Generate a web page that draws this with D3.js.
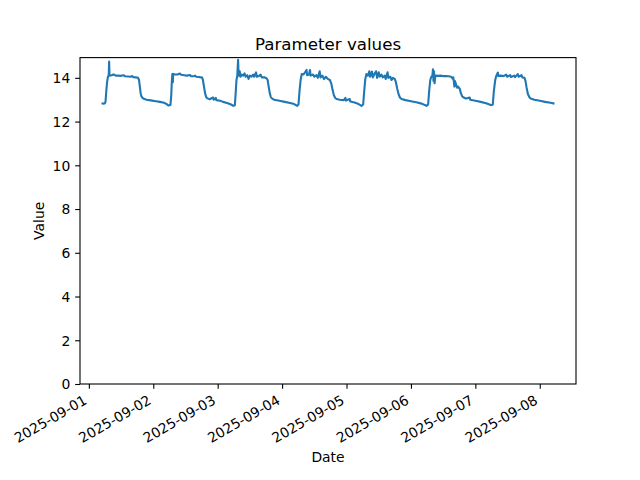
<!DOCTYPE html>
<html><head><meta charset="utf-8">
<script src="https://cdn.jsdelivr.net/npm/d3@7"></script>
<style>body{margin:0;background:#fff}svg{display:block}text{font-family:"DejaVu Sans",sans-serif;fill:#000}</style>
</head><body>
<svg id="c" width="640" height="480"></svg>
<script>
// hours since 2025-09-01 00:00 UTC
const hours = [
 5.1,5.5,6.0,6.2,6.5,6.8,7.1,7.4,7.55,7.7,8.5,9.2,10,11,12,12.9,13.5,14.5,15.5,16.2,16.5,17.5,18.3,18.7,19.0,19.3,19.6,20.0,20.5,21.5,23,
 25,26.5,28,29,29.6,30.4,30.7,30.9,31.1,31.3,31.4,32,33,34,34.3,35.5,36.5,37.7,38,39,39.6,40,41,42.2,42.5,42.9,43.3,43.7,44.2,45,46.3,46.5,47.3,47.5,48.9,50,51.5,53,53.8,
 54.4,54.7,55.0,55.3,55.6,55.8,56.2,56.5,57,57.5,58,58.4,59,59.5,60,60.6,61.2,61.6,62.3,62.6,63.3,64,64.4,65.3,66.2,66.6,67,67.4,67.8,68.3,69,71,73,75,76.5,77.6,
 78.1,78.5,78.9,79.3,80,81.1,81.3,82.0,82.4,82.6,83.5,84,84.8,85.3,86,86.3,87,87.6,88.3,89,89.8,90.3,90.8,91.3,91.8,92.3,93.5,95,95.6,95.8,97.2,97.4,99,100.5,101.6,
 102.2,102.6,103,103.4,104,104.5,104.8,105.5,105.8,106.5,107,107.4,108,108.4,109,109.5,110.3,110.6,111.3,111.6,112.3,112.8,113.3,114,114.4,114.9,115.4,115.9,116.5,118,120,122,124,125.8,
 126.4,126.8,127.2,127.6,128.0,128.2,128.4,128.6,128.8,129.1,130,131,132,133,134,135,135.6,135.8,136.2,136.4,136.8,137.2,137.6,138.2,138.6,139.1,139.7,140.5,141.9,142.1,144,146,148,150,
 150.5,150.9,151.4,151.8,152.4,152.6,153.5,154.5,155.5,155.8,157,157.3,158.5,158.8,159.8,160.1,161.2,161.5,162.3,162.7,163.1,163.6,164.2,164.6,166,168,170,172,173.1
];
const values = [
 12.83,12.82,12.84,12.9,13.4,13.8,14.05,14.1,14.74,14.1,14.12,14.16,14.1,14.1,14.09,14.12,14.07,14.06,14.05,14.08,14.03,14.02,14.0,13.9,13.6,13.3,13.15,13.08,13.04,13.0,12.97,
 12.93,12.9,12.86,12.8,12.74,12.76,13.2,13.8,14.17,13.8,14.18,14.15,14.15,14.2,14.14,14.12,14.1,14.13,14.08,14.07,14.1,14.05,14.04,14.01,13.9,13.6,13.3,13.12,13.06,13.02,13.1,13.0,13.08,12.98,12.95,12.9,12.85,12.78,12.72,
 12.75,13.3,13.9,14.08,14.82,14.1,14.3,14.05,14.15,14.1,14.2,14.05,14.12,13.95,14.1,14.05,14.15,14.05,14.25,14.05,14.08,14.15,14.02,14.03,13.98,13.9,13.6,13.3,13.12,13.05,13.0,12.95,12.9,12.85,12.8,12.72,
 12.78,13.4,13.9,14.17,14.15,14.36,14.12,14.15,14.36,14.1,14.15,14.05,14.12,14.0,14.3,14.02,14.1,13.94,14.05,13.95,13.9,13.75,13.45,13.2,13.08,13.03,13.0,12.98,13.08,12.96,13.03,12.92,12.87,12.8,12.72,
 12.78,13.4,13.95,14.17,14.1,14.3,14.05,14.28,14.02,14.2,14.3,14.0,14.25,14.05,14.15,14.02,14.1,13.95,14.25,14.0,14.05,13.9,14.0,13.94,13.8,13.5,13.25,13.1,13.03,12.98,12.93,12.88,12.82,12.72,
 12.78,13.4,13.9,14.05,14.1,14.39,13.86,14.3,13.75,14.1,14.09,14.1,14.08,14.08,14.07,14.05,13.95,14.02,13.6,13.85,13.7,13.55,13.6,13.5,13.3,13.15,13.1,13.05,13.1,13.0,12.95,12.9,12.84,12.75,
 12.78,13.4,13.9,14.09,14.24,14.08,14.1,14.08,14.15,14.05,14.12,14.04,14.1,14.03,14.17,14.05,14.12,14.02,14.0,13.85,13.55,13.25,13.1,13.05,13.0,12.95,12.9,12.86,12.83
];
const yTicks = [0,2,4,6,8,10,12,14];
const title = "Parameter values", xLabel = "Date", yLabel = "Value";

const t0 = Date.UTC(2025,8,1);
const data = hours.map((h,i)=>({d:new Date(t0+h*3600e3), v:values[i]}));
const W=640,H=480, L=80, R=576, T=57.6, B=384;
const svg = d3.select("#c");
const ext = d3.extent(data,d=>+d.d), span = ext[1]-ext[0];
const x = d3.scaleUtc().domain([new Date(ext[0]-0.05*span), new Date(ext[1]+0.05*span)]).range([L,R]);
const vmin = d3.min(values), vmax = d3.max(values);
const y = d3.scaleLinear().domain([0, vmax+0.05*(vmax-vmin)]).range([B,T]);

const fs = 13.9, tl = 4.86;
// x axis
const xa = svg.append("g").attr("transform",`translate(0,${B})`)
  .call(d3.axisBottom(x).ticks(d3.utcDay.every(1)).tickFormat(d3.utcFormat("%Y-%m-%d")).tickSize(tl).tickPadding(0));
xa.select(".domain").remove();
xa.selectAll("line").attr("stroke","#000").attr("stroke-width",1.1);
xa.selectAll("text").attr("font-size",fs).attr("font-family","DejaVu Sans")
  .attr("text-anchor","end").attr("dy",null).attr("y",null)
  .attr("transform","translate(-1.5,19) rotate(-30)");
// y axis
const ya = svg.append("g").attr("transform",`translate(${L},0)`)
  .call(d3.axisLeft(y).tickValues(yTicks).tickFormat(d3.format("d")).tickSize(tl).tickPadding(4.86));
ya.select(".domain").remove();
ya.selectAll("line").attr("stroke","#000").attr("stroke-width",1.1);
ya.selectAll("text").attr("font-size",fs).attr("font-family","DejaVu Sans").attr("dy","0.35em");

// line
svg.append("path").datum(data)
  .attr("fill","none").attr("stroke","#1f77b4").attr("stroke-width",2.1)
  .attr("stroke-linejoin","round").attr("stroke-linecap","square")
  .attr("d", d3.line().x(d=>x(d.d)).y(d=>y(d.v)));

// spines
svg.append("rect").attr("x",L).attr("y",T).attr("width",R-L).attr("height",B-T)
  .attr("fill","none").attr("stroke","#000").attr("stroke-width",1.1);

svg.append("text").attr("x",(L+R)/2).attr("y",49.5).attr("text-anchor","middle").attr("font-size",16.67).text(title);
svg.append("text").attr("x",(L+R)/2).attr("y",462).attr("text-anchor","middle").attr("font-size",fs).text(xLabel);
svg.append("text").attr("transform",`translate(44,${(T+B)/2}) rotate(-90)`).attr("text-anchor","middle").attr("font-size",fs).text(yLabel);
</script>
</body></html>
